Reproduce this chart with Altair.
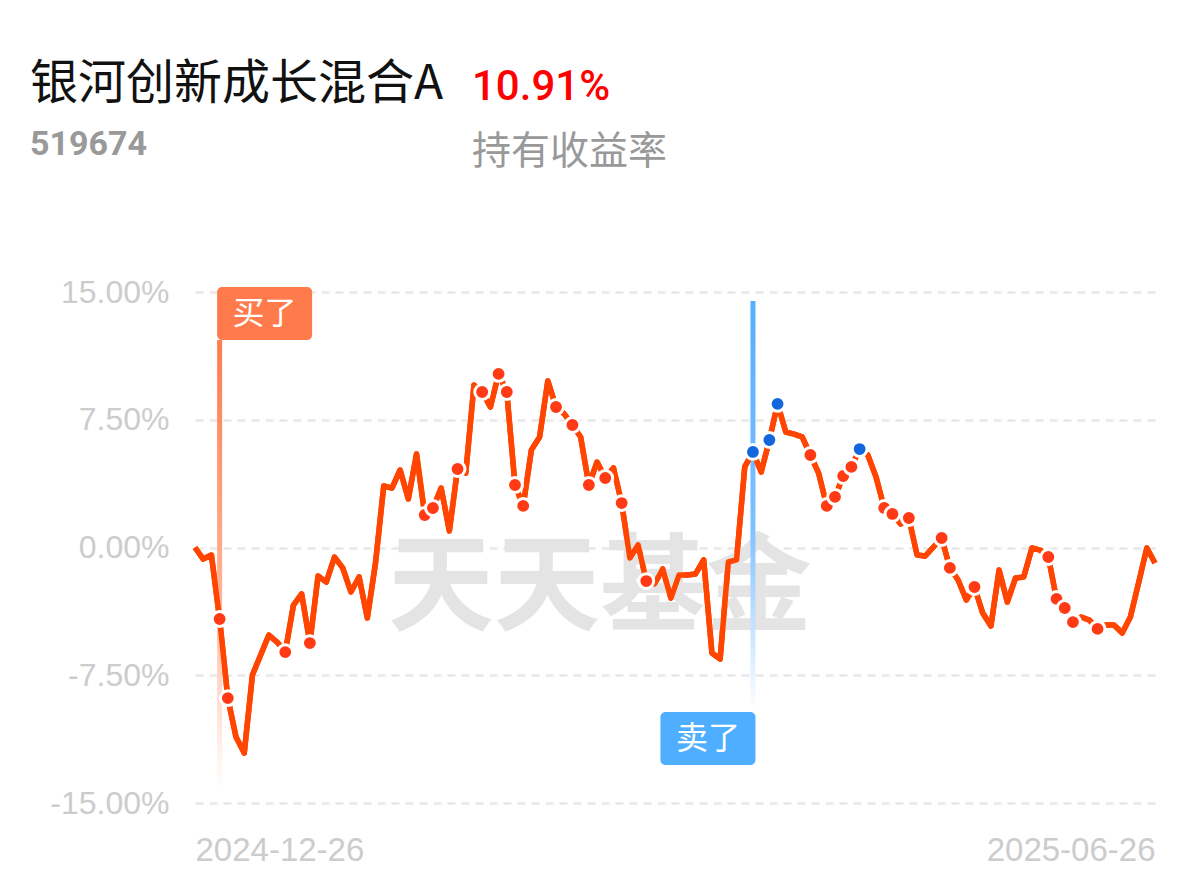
import altair as alt
import pandas as pd

# ---- data ----
VALUES = [
    0.00, -0.68, -0.44, -4.20, -8.84, -11.13, -12.07, -7.49, -6.31, -5.14,
    -5.55, -6.14, -3.38, -2.73, -5.61, -1.67, -2.03, -0.56, -1.20, -2.61,
    -1.73, -4.14, -0.91, 3.61, 3.49, 4.55, 2.85, 5.49, 1.91, 2.32,
    3.49, 0.97, 4.61, 4.37, 9.54, 9.13, 8.25, 10.19, 9.13, 3.67,
    2.44, 5.73, 6.49, 9.78, 8.25, 7.84, 7.19, 6.49, 3.67, 5.02,
    4.08, 4.67, 2.61, -0.62, 0.15, -1.97, -2.14, -1.26, -2.97, -1.61,
    -1.61, -1.55, -0.73, -6.19, -6.55, -0.85, -0.73, 4.73, 5.61, 4.43,
    6.31, 8.43, 6.78, 6.66, 6.49, 5.43, 4.37, 2.44, 2.97, 4.20,
    4.73, 5.78, 5.43, 4.14, 2.32, 1.97, 1.38, 1.73, -0.44, -0.50,
    0.03, 0.56, -1.20, -1.91, -3.08, -2.32, -3.85, -4.61, -1.32, -3.20,
    -1.79, -1.73, -0.03, -0.15, -0.56, -3.02, -3.55, -4.38, -4.08, -4.26,
    -4.78, -4.55, -4.55, -5.02, -4.08, -2.08, -0.03, -0.91,
]
BUY_DOTS = [3, 4, 11, 14, 28, 29, 32, 35, 37, 38, 39, 40, 44, 46, 48, 50, 52, 55,
            75, 77, 78, 79, 80, 84, 85, 87, 91, 92, 95, 104, 105, 106, 107, 110]
SELL_DOTS = [68, 70, 71, 81]
BUY_MARK = 3
SELL_MARK = 68
Y_TICKS = [-15, -7.5, 0, 7.5, 15]
X_LABELS = ["2024-12-26", "2025-06-26"]
TITLE = "银河创新成长混合A"
RETURN_TEXT = "10.91%"
CODE = "519674"
RETURN_LABEL = "持有收益率"
WATERMARK = "天天基金"
BUY_LABEL = "买了"
SELL_LABEL = "卖了"

n = len(VALUES)
df = pd.DataFrame({"i": list(range(n)), "v": VALUES})
kinds = []
for k in range(n):
    if k in BUY_DOTS:
        kinds.append("buy")
    elif k in SELL_DOTS:
        kinds.append("sell")
    else:
        kinds.append("none")
df["kind"] = kinds
dots_df = df[df["kind"] != "none"]

xscale = alt.Scale(domain=[0, n - 1], nice=False, zero=False)
yscale = alt.Scale(domain=[-15, 15], nice=False, zero=False)

LABEL_FONT = "Liberation Sans"
CJK = "Noto Sans CJK SC"
NUM_FONT = "Roboto"

x_label_expr = f"datum.value == 0 ? '{X_LABELS[0]}' : '{X_LABELS[1]}'"
y_label_expr = "(datum.value < 0 ? '-' : '') + format(abs(datum.value), '.2f') + '%'"

x_enc = alt.X("i:Q", scale=xscale, axis=alt.Axis(
    values=[0, n - 1], labelExpr=x_label_expr, labelFlush=True, grid=False,
    domain=False, ticks=False, labelFontSize=33, labelColor="#CCCCCC",
    labelFont=LABEL_FONT, labelPadding=31, title=None))
y_enc = alt.Y("v:Q", scale=yscale, axis=alt.Axis(
    values=Y_TICKS, labelExpr=y_label_expr, grid=True,
    gridDash=[8, 6], gridColor="#E8E8E8", gridWidth=2.5, domain=False,
    ticks=False, labelFontSize=32, labelColor="#CCCCCC", labelFont=LABEL_FONT,
    labelPadding=26, title=None))

line = alt.Chart(df).mark_line(color="#FF4500", strokeWidth=5.5, strokeJoin="round").encode(
    x=x_enc, y=y_enc)

dots = alt.Chart(dots_df).mark_circle(size=220, opacity=1, stroke="white", strokeWidth=3).encode(
    x=alt.X("i:Q", scale=xscale),
    y=alt.Y("v:Q", scale=yscale),
    color=alt.Color("kind:N", scale=alt.Scale(domain=["buy", "sell"], range=["#FF3A14", "#1466DC"]), legend=None),
)

mk = pd.DataFrame({"i": [BUY_MARK, SELL_MARK], "kind": ["buy", "sell"], "label": [BUY_LABEL, SELL_LABEL]})
buy_df = mk[mk["kind"] == "buy"]
sell_df = mk[mk["kind"] == "sell"]

buy_grad = alt.Gradient(gradient="linear", x1=0, x2=0, y1=0, y2=1, stops=[
    alt.GradientStop(color="#FF7B4C", offset=0),
    alt.GradientStop(color="#FFB294", offset=0.55),
    alt.GradientStop(color="#FFFFFF", offset=1)])
sell_grad = alt.Gradient(gradient="linear", x1=0, x2=0, y1=0, y2=1, stops=[
    alt.GradientStop(color="#55AEFF", offset=0),
    alt.GradientStop(color="#7FC0FF", offset=0.55),
    alt.GradientStop(color="#FFFFFF", offset=1)])

buy_rule = alt.Chart(buy_df).mark_rect(fill=buy_grad, xOffset=-2.5, x2Offset=2.5).encode(
    x=alt.X("i:Q", scale=xscale), x2="i:Q", y=alt.value(48), y2=alt.value(498))
sell_rule = alt.Chart(sell_df).mark_rect(fill=sell_grad, xOffset=-2.5, x2Offset=2.5).encode(
    x=alt.X("i:Q", scale=xscale), x2="i:Q", y=alt.value(9), y2=alt.value(418))

buy_box = alt.Chart(buy_df).mark_rect(color="#FF7B4C", cornerRadius=5, xOffset=-2.5, x2Offset=92.5).encode(
    x=alt.X("i:Q", scale=xscale), x2="i:Q", y=alt.value(-5), y2=alt.value(48))
sell_box = alt.Chart(sell_df).mark_rect(color="#4FAEFF", cornerRadius=5, xOffset=-92.5, x2Offset=2.5).encode(
    x=alt.X("i:Q", scale=xscale), x2="i:Q", y=alt.value(420), y2=alt.value(473))

buy_txt = alt.Chart(buy_df).mark_text(dx=45, fontSize=32, color="white", font=CJK, baseline="middle").encode(
    x=alt.X("i:Q", scale=xscale), y=alt.value(22), text="label:N")
sell_txt = alt.Chart(sell_df).mark_text(dx=-45, fontSize=32, color="white", font=CJK, baseline="middle").encode(
    x=alt.X("i:Q", scale=xscale), y=alt.value(447), text="label:N")


def label(text, x, y, size, color, font, weight="normal", align="left"):
    return alt.Chart(pd.DataFrame({"t": [text]})).mark_text(
        fontSize=size, color=color, font=font, fontWeight=weight, align=align, baseline="middle"
    ).encode(text="t:N", x=alt.value(x), y=alt.value(y))


watermark = label(WATERMARK, 405, 298, 106, "#E4E4E4", CJK, "bold", "center")
t_title = label(TITLE, -165, -207, 48, "#111111", CJK)
t_ret = label(RETURN_TEXT, 277, -205, 42, "#FF0000", NUM_FONT, 500)
t_code = label(CODE, -165, -147, 34, "#999999", NUM_FONT, "bold")
t_lab = label(RETURN_LABEL, 277, -140, 39, "#999999", CJK)

chart = alt.layer(
    line, watermark, buy_rule, sell_rule, line, dots, buy_box, sell_box, buy_txt, sell_txt,
    t_title, t_ret, t_code, t_lab,
).properties(
    width=960, height=511,
    padding={"left": 187, "top": 284, "right": 20, "bottom": 72},
    autosize=alt.AutoSizeParams(type="none"),
    background="white",
).configure_view(stroke=None)

chart.save("out.html", embed_options={"renderer": "svg", "actions": False})
